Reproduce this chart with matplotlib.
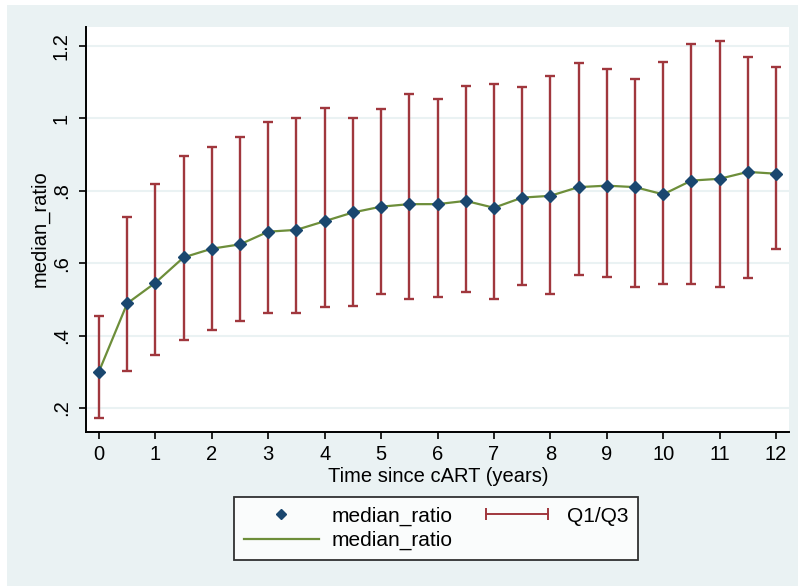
import numpy as np
import matplotlib.pyplot as plt
from matplotlib.patches import Rectangle
from matplotlib.lines import Line2D
from matplotlib.legend_handler import HandlerLine2D

# 数据
years = [0, 0.5, 1, 1.5, 2, 2.5, 3, 3.5, 4, 4.5, 5, 5.5, 6, 6.5, 7, 7.5, 8,
         8.5, 9, 9.5, 10, 10.5, 11, 11.5, 12]
median_ratio = [0.301, 0.489, 0.546, 0.616, 0.640, 0.652, 0.687, 0.692, 0.716,
                0.740, 0.756, 0.763, 0.763, 0.772, 0.753, 0.781, 0.786, 0.810,
                0.814, 0.810, 0.790, 0.828, 0.833, 0.852, 0.847]
q1 = [0.172, 0.303, 0.346, 0.387, 0.415, 0.440, 0.463, 0.463, 0.478, 0.483,
      0.515, 0.501, 0.507, 0.520, 0.501, 0.539, 0.515, 0.567, 0.562, 0.534,
      0.543, 0.543, 0.534, 0.558, 0.639]
q3 = [0.454, 0.728, 0.818, 0.897, 0.921, 0.949, 0.990, 1.000, 1.028, 1.000,
      1.025, 1.066, 1.053, 1.090, 1.094, 1.085, 1.118, 1.152, 1.136, 1.108,
      1.156, 1.205, 1.212, 1.170, 1.142]
y_ticks = [0.2, 0.4, 0.6, 0.8, 1.0, 1.2]
y_tick_labels = ['.2', '.4', '.6', '.8', '1', '1.2']
x_ticks = list(range(0, 13))

BG = '#eaf2f3'
RED = '#a0373d'
GREEN = '#6d8e3a'
NAVY = '#1a476f'
FS = 14.5

plt.rcParams['font.family'] = ['Liberation Sans', 'DejaVu Sans']

fig = plt.figure(figsize=(7.98, 5.86), dpi=100)
fig.patch.set_facecolor('white')
# 外层背景（左、上留白）
fig.patches.append(Rectangle((7 / 798, 0), 1, 1 - 5 / 586, transform=fig.transFigure,
                             facecolor=BG, edgecolor='none', zorder=-10))

ax = fig.add_axes([86 / 798, 1 - 432 / 586, (789 - 86) / 798, (432 - 27) / 586])
ax.set_facecolor('white')

y = np.array(median_ratio)
lo = y - np.array(q1)
hi = np.array(q3) - y

ax.errorbar(years, y, yerr=[lo, hi], fmt='none', ecolor=RED, elinewidth=1.7,
            capsize=3.7, capthick=1.7, zorder=2)
ax.plot(years, y, color=GREEN, lw=1.6, zorder=3)
ax.plot(years, y, linestyle='none', marker='D', markersize=6.5, color=NAVY, zorder=4)

ax.set_xlim(-0.23, 12.23)
ax.set_ylim(0.134, 1.252)
ax.set_yticks(y_ticks)
ax.set_yticklabels(y_tick_labels, rotation=90, va='center')
ax.set_xticks(x_ticks)
ax.tick_params(axis='both', labelsize=FS, length=5, width=1.2, direction='out', color='black')
ax.tick_params(axis='x', pad=4.5)
ax.tick_params(axis='y', pad=6)
ax.grid(axis='y', color=BG, lw=1.5, zorder=0)
ax.set_axisbelow(True)

for s in ['top', 'right']:
    ax.spines[s].set_visible(False)
for s in ['left', 'bottom']:
    ax.spines[s].set_linewidth(1.4)

fig.text(40 / 798, 1 - 229 / 586, 'median_ratio', fontsize=FS, rotation=90,
         ha='center', va='center')
fig.text(438 / 798, 1 - 477 / 586, 'Time since cART (years)', fontsize=FS,
         ha='center', va='center')

# 图例
h_marker = Line2D([], [], linestyle='none', marker='D', markersize=5, color=NAVY)
h_line = Line2D([], [], color=GREEN, lw=1.6)
h_err = Line2D([], [], color=RED, lw=1.4, marker='|', markersize=8, markeredgewidth=1.4)
leg = fig.legend([h_marker, h_line, h_err], ['median_ratio', 'median_ratio', 'Q1/Q3'],
                 ncol=2, loc='center', bbox_to_anchor=(436 / 798, 1 - 528.5 / 586),
                 fontsize=15, frameon=True, fancybox=False, edgecolor='black',
                 handlelength=3.6, columnspacing=1.3, handletextpad=0.6,
                 borderpad=0.45, labelspacing=0.25, borderaxespad=0,
                 handler_map={h_err: HandlerLine2D(numpoints=2),
                              h_marker: HandlerLine2D(numpoints=1)})
leg.get_frame().set_linewidth(1.3)

fig.savefig('out.png', dpi=100)
